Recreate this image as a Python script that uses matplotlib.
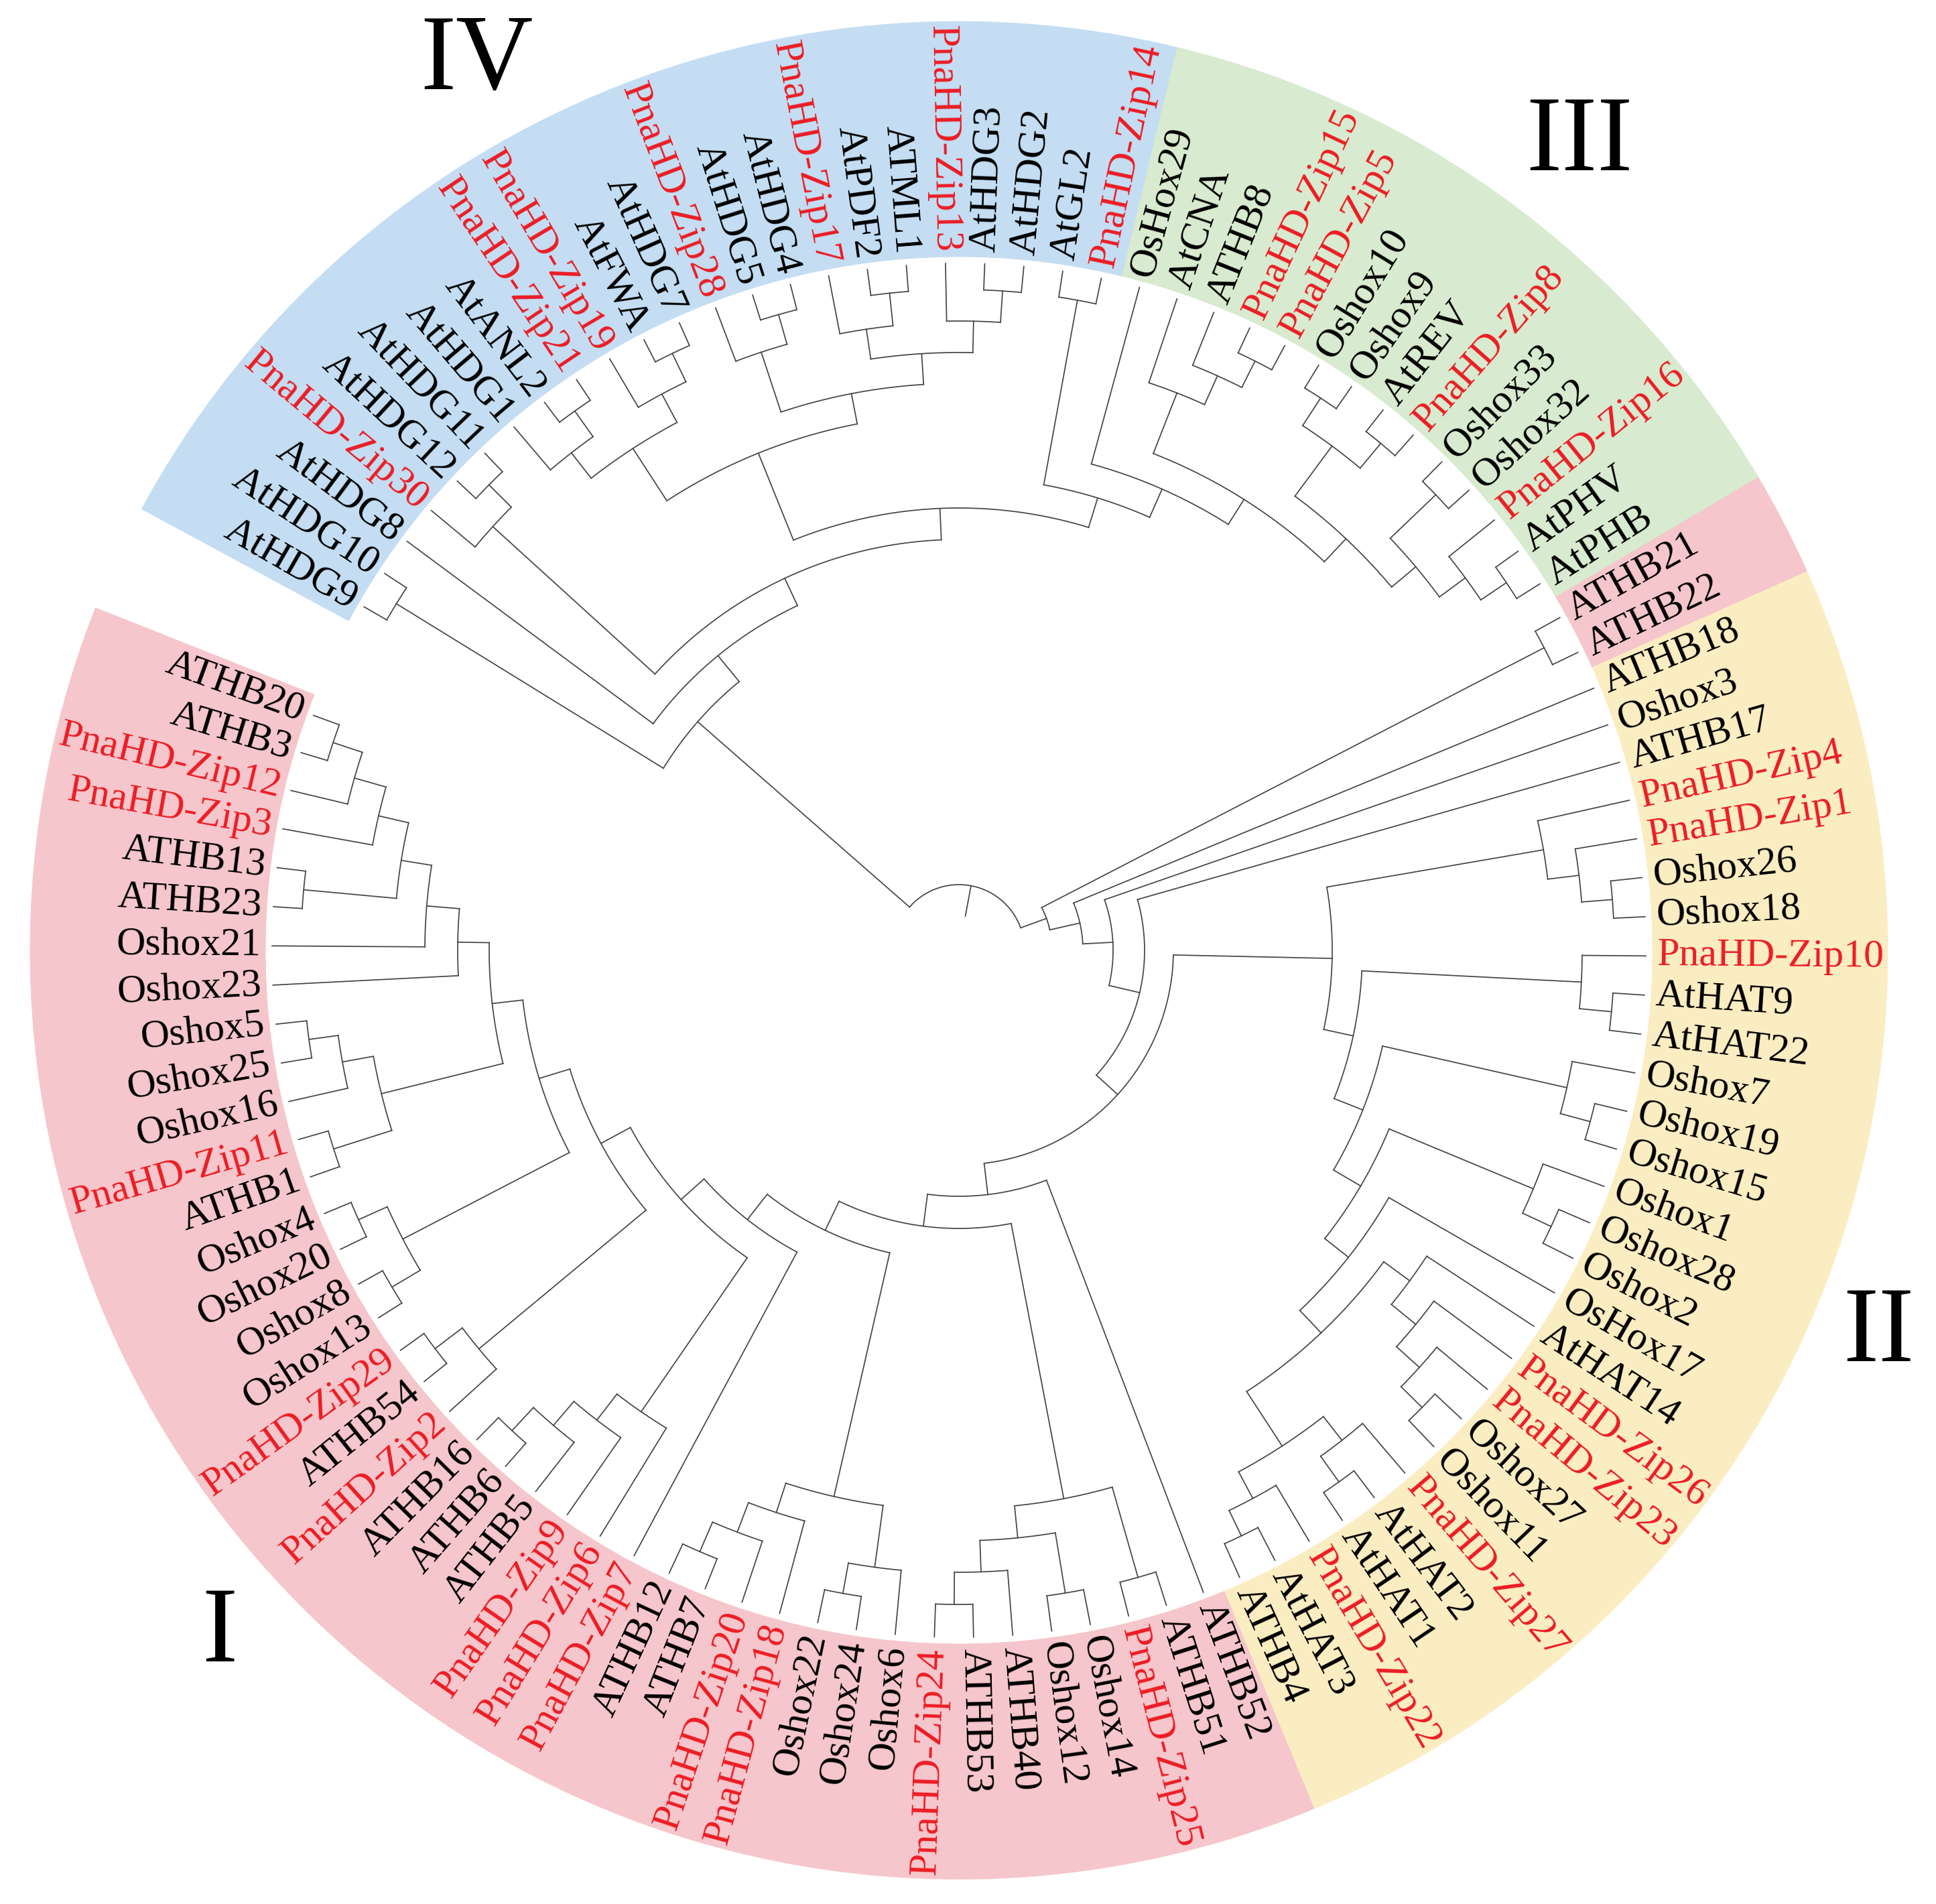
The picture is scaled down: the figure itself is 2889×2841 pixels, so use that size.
import numpy as np
import matplotlib
matplotlib.use("Agg")
import matplotlib.pyplot as plt
from matplotlib.patches import Wedge

plt.rcParams['font.family'] = ['Liberation Serif', 'DejaVu Serif']

W, H = 2889, 2841
CX, CY = 1431, H - 1418          # tree centre (pixels, y up)

# ---------------- tree data (Newick; internal labels = node radius in px) -------------
N893 = "((AtHDG1,(AtANL2,PnaHD-Zip21)988)941,(PnaHD-Zip19,(AtFWA,AtHDG7)988)941)893"
N846 = ("((PnaHD-Zip28,(AtHDG5,AtHDG4)986)940,((PnaHD-Zip17,(AtPDF2,ATML1)986)937,"
        "(PnaHD-Zip13,(AtHDG3,AtHDG2)986)939)892)846")
CLADE_III = ("(OsHox29,((AtCNA,(ATHB8,(PnaHD-Zip15,PnaHD-Zip5)984)940)893,"
             "(((Oshox10,Oshox9)985,(AtREV,PnaHD-Zip8)984)936,"
             "((Oshox33,Oshox32)984,(PnaHD-Zip16,(AtPHV,AtPHB)984)938)890)843)796)752")
N706 = f"((AtGL2,PnaHD-Zip14)986,{CLADE_III})706"
CLADE_IV = (f"((AtHDG9,AtHDG10)986,(AtHDG8,((PnaHD-Zip30,(AtHDG12,AtHDG11)987)940,"
            f"(({N893},{N846})800,{N706})660)613)568)518")

F_SUB = "(PnaHD-Zip4,(PnaHD-Zip1,(Oshox26,Oshox18)978)932)885"
N785 = ("((AtHAT14,(PnaHD-Zip26,(PnaHD-Zip23,(Oshox27,Oshox11)971)927)881)834,"
        "((PnaHD-Zip27,(AtHAT2,AtHAT1)975)928,(PnaHD-Zip22,(AtHAT3,ATHB4)970)928)883)786")
N602 = (f"((PnaHD-Zip10,(AtHAT9,AtHAT22)978)930,((Oshox7,(Oshox19,Oshox15)976)930,"
        f"((Oshox1,(Oshox28,Oshox2)975)928,(OsHox17,{N785})740)695)648)602")
CLADE_II = f"({F_SUB},{N602})557"

N832 = ("((ATHB51,PnaHD-Zip25)973,((Oshox14,Oshox12)972,"
        "(ATHB40,(ATHB53,PnaHD-Zip24)976)928)881)833")
N834 = ("((Oshox6,(Oshox24,Oshox22)975)929,"
        "(PnaHD-Zip18,(PnaHD-Zip20,(ATHB7,ATHB12)977)929)882)836")
N836 = "(PnaHD-Zip6,(PnaHD-Zip9,(ATHB5,(ATHB6,ATHB16)979)932)885)836"
N931 = "(PnaHD-Zip2,(ATHB54,PnaHD-Zip29)982)931"
N935 = "((Oshox13,Oshox8)984,(Oshox20,Oshox4)982)935"
N887 = "((ATHB1,PnaHD-Zip11)979,(Oshox16,(Oshox25,Oshox5)979)935)888"
N748 = ("(Oshox23,(Oshox21,((ATHB23,ATHB13)982,"
        "(PnaHD-Zip3,(PnaHD-Zip12,(ATHB3,ATHB20)984)938)889)843)797)748")
N511 = f"(PnaHD-Zip7,({N836},({N931},({N935},({N887},{N748})701)655)607)557)511"
CLADE_I = f"(ATHB52,({N832},({N834},{N511})463)415)367"

REST = f"((ATHB21,ATHB22)983,(ATHB18,(Oshox3,(ATHB17,({CLADE_II},{CLADE_I})320)277)230)185)139"
TREE = f"({CLADE_IV},{REST})98;"

ROOT_STUB_R = 52
FIRST_ANGLE = 150.0     # angle of first leaf (deg)
STEP = 3.271            # angular spacing between leaves (deg, clockwise)
TIP_R = 1025
LABEL_R = 1042
BAND_IN, BAND_OUT = 1035, 1386

BANDS = [("AtHDG9", "PnaHD-Zip14", "#c4ddf2"),
         ("OsHox29", "AtPHB", "#d8eacf"),
         ("ATHB21", "ATHB22", "#f5c6cb"),
         ("ATHB18", "ATHB4", "#fbedc2"),
         ("ATHB52", "ATHB20", "#f5c6cb")]
NUMERALS = [("IV", 118.5, 1507), ("III", 52.4, 1518), ("II", -22.7, 1488), ("I", -137.2, 1504)]

LINE_COLOR = "#454545"
RED = "#ec1c24"
FONT_SIZE = 43
NUM_SIZE = 115


# ---------------- parse ----------------
def parse(s):
    s = "".join(s.split()).rstrip(";")
    pos = 0

    def node():
        nonlocal pos
        if s[pos] == '(':
            pos += 1
            kids = [node()]
            while s[pos] == ',':
                pos += 1
                kids.append(node())
            pos += 1  # ')'
            j = pos
            while pos < len(s) and s[pos] not in ',)':
                pos += 1
            return {'kids': kids, 'r': float(s[j:pos])}
        j = pos
        while pos < len(s) and s[pos] not in ',)':
            pos += 1
        return {'name': s[j:pos]}
    return node()


root = parse(TREE)
leaves = []


def collect(n):
    if 'kids' in n:
        for k in n['kids']:
            collect(k)
    else:
        leaves.append(n)


collect(root)
for i, lf in enumerate(leaves):
    lf['a'] = FIRST_ANGLE - i * STEP
    lf['r'] = TIP_R
leaf_angle = {lf['name']: lf['a'] for lf in leaves}


def set_angles(n):
    if 'kids' in n:
        for k in n['kids']:
            set_angles(k)
        n['a'] = 0.5 * (n['kids'][0]['a'] + n['kids'][-1]['a'])


set_angles(root)

# ---------------- draw ----------------
fig = plt.figure(figsize=(W / 100, H / 100), dpi=100)
ax = fig.add_axes([0, 0, 1, 1])
ax.set_xlim(0, W)
ax.set_ylim(0, H)
ax.axis('off')

for first, last, col in BANDS:
    t2 = leaf_angle[first] + STEP / 2
    t1 = leaf_angle[last] - STEP / 2
    ax.add_patch(Wedge((CX, CY), BAND_OUT, t1, t2, width=BAND_OUT - BAND_IN,
                       facecolor=col, edgecolor=col, lw=0.6, zorder=0))

LW = 1.25


def pol(r, a):
    t = np.radians(a)
    return CX + r * np.cos(t), CY + r * np.sin(t)


def draw(n):
    if 'kids' not in n:
        return
    a0, a1 = n['kids'][0]['a'], n['kids'][-1]['a']
    ts = np.linspace(a0, a1, max(3, int(abs(a1 - a0) * 6)))
    x, y = pol(n['r'], ts)
    ax.plot(x, y, color=LINE_COLOR, lw=LW, zorder=2, solid_capstyle='projecting')
    for k in n['kids']:
        x0, y0 = pol(n['r'], k['a'])
        x1, y1 = pol(k['r'], k['a'])
        ax.plot([x0, x1], [y0, y1], color=LINE_COLOR, lw=LW, zorder=2,
                solid_capstyle='projecting')
        draw(k)


draw(root)
x0, y0 = pol(ROOT_STUB_R, root['a'])
x1, y1 = pol(root['r'], root['a'])
ax.plot([x0, x1], [y0, y1], color=LINE_COLOR, lw=LW, zorder=2)

for lf in leaves:
    a = lf['a'] % 360
    x, y = pol(LABEL_R, a)
    if 90 < a < 270:
        rot, ha = a - 180, 'right'
    else:
        rot, ha = a, 'left'
    col = RED if lf['name'].startswith('PnaHD') else 'black'
    ax.text(x, y, lf['name'], rotation=rot, rotation_mode='anchor', ha=ha,
            va='center', fontsize=FONT_SIZE, color=col, zorder=3)

for lab, a, r in NUMERALS:
    x, y = pol(r, a)
    ax.text(x, y, lab, ha='center', va='center', fontsize=NUM_SIZE, color='black')

fig.savefig('out.png', dpi=100, facecolor='white')
